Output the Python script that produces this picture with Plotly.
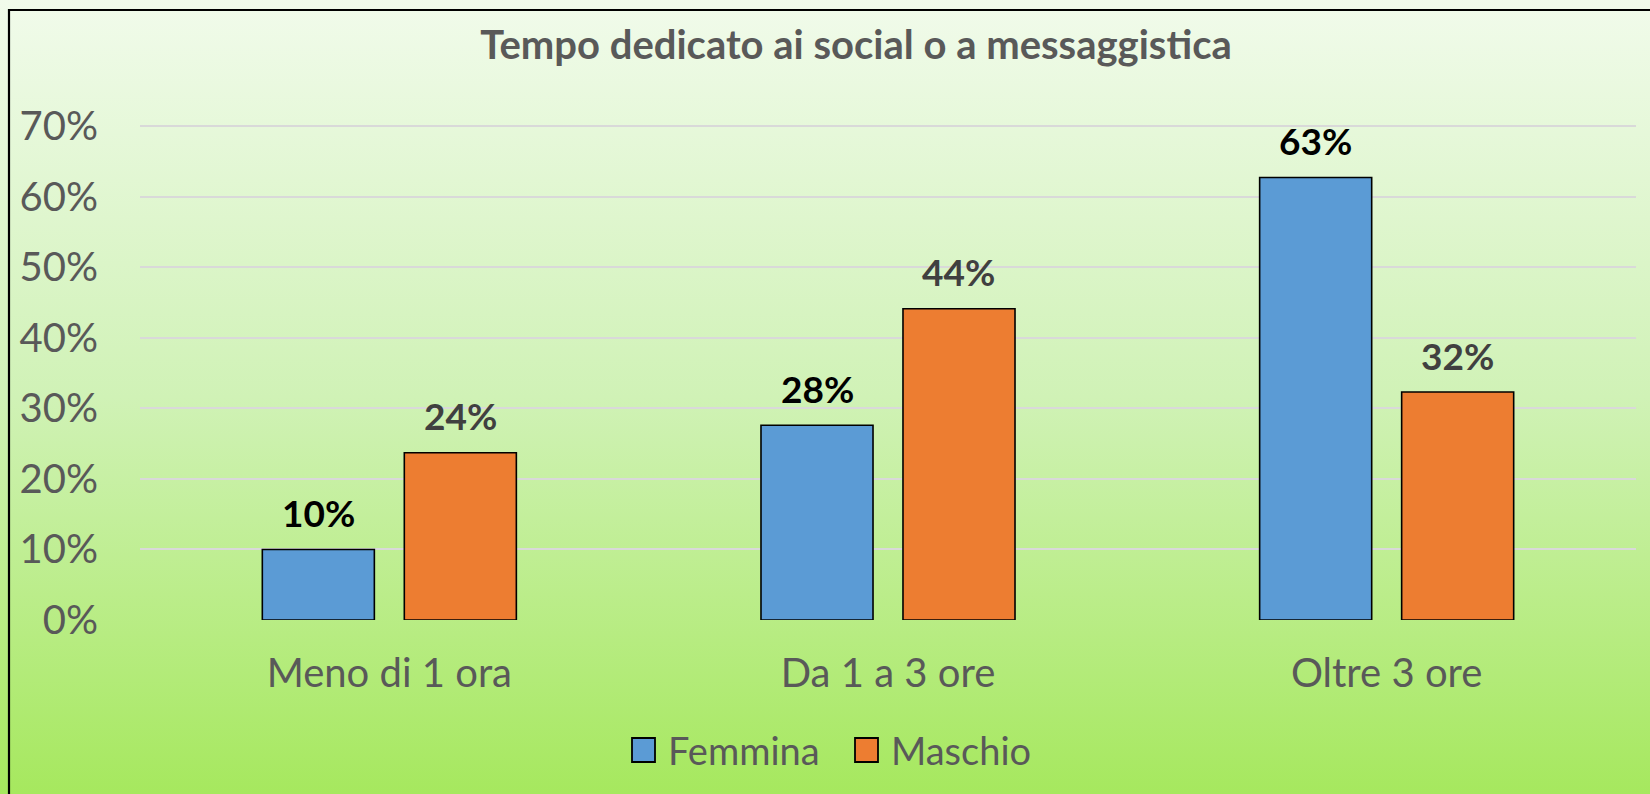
import base64
import plotly.graph_objects as go

# ---- data ----
categories = ["Meno di 1 ora", "Da 1 a 3 ore", "Oltre 3 ore"]
femmina = [0.100, 0.276, 0.627]
maschio = [0.237, 0.441, 0.323]
series_names = ["Femmina", "Maschio"]
y_ticks = [0, 0.1, 0.2, 0.3, 0.4, 0.5, 0.6, 0.7]
y_tick_labels = ["0%", "10%", "20%", "30%", "40%", "50%", "60%", "70%"]
title_text = "Tempo dedicato ai social o a messaggistica"

# ---- layout geometry ----
W, H = 1650, 794
L, R, T, B = 140, 14, 116, 174
PW, PH = W - L - R, H - T - B
Y_TOP = 0.7 * PH / (620 - 126)   # keeps 0%..70% at 620..126 px
FONT = "Lato"
GRAY = "#595959"
BLUE = "#5b9bd5"
ORANGE = "#ed7d31"
BARGAP, GROUPGAP = 0.4305, 0.211
# pixel offset of each bar centre from its category centre
HALF_SLOT_PX = (1 - BARGAP) / 4 * PW / len(categories)


def px(x):
    return (x - L) / PW


def py(y):
    return 1 - (y - T) / PH


fig = go.Figure()
series = [(series_names[0], femmina, BLUE, "#000000", -1),
          (series_names[1], maschio, ORANGE, "#404040", 1)]
for name, vals, col, lblcol, side in series:
    fig.add_trace(go.Bar(
        name=name, x=categories, y=vals,
        marker=dict(color=col, line=dict(color="#000000", width=1.6)),
        showlegend=False,
    ))
    for c, v in zip(categories, vals):
        fig.add_annotation(
            xref="x", yref="y", x=c, y=v,
            text="<b>%d%%</b>" % int(v * 100 + 0.5),
            showarrow=False, xanchor="center", yanchor="middle",
            xshift=side * HALF_SLOT_PX, yshift=37,
            font=dict(family=FONT, size=37, color=lblcol),
        )

# gradient background
svg = (
    '<svg xmlns="http://www.w3.org/2000/svg" width="100" height="100" preserveAspectRatio="none">'
    '<defs><linearGradient id="g" x1="0" y1="0" x2="0" y2="1">'
    '<stop offset="0" stop-color="#f1fbeb"/>'
    '<stop offset="0.5" stop-color="#d0f2b6"/>'
    '<stop offset="1" stop-color="#a6e85e"/>'
    '</linearGradient></defs>'
    '<rect x="0" y="0" width="100" height="100" fill="url(#g)"/></svg>'
)
src = "data:image/svg+xml;base64," + base64.b64encode(svg.encode()).decode()
fig.add_layout_image(dict(
    source=src, xref="paper", yref="paper",
    x=px(0), y=py(0), sizex=W / PW, sizey=H / PH,
    xanchor="left", yanchor="top", sizing="stretch", layer="below",
))

# chart frame
fig.add_shape(type="rect", xref="paper", yref="paper",
              x0=px(9), x1=px(1720), y0=py(10), y1=py(840),
              line=dict(color="#000000", width=2.2), fillcolor="rgba(0,0,0,0)")

# legend (manual, to get Excel-size swatches)
legend_items = [(series_names[0], BLUE, 632), (series_names[1], ORANGE, 855)]
for name, col, x0 in legend_items:
    fig.add_shape(type="rect", xref="paper", yref="paper",
                  x0=px(x0), x1=px(x0 + 23), y0=py(738), y1=py(762),
                  line=dict(color="#000000", width=1.8), fillcolor=col)
    fig.add_annotation(xref="paper", yref="paper", x=px(x0 + 34), y=py(750),
                       text=name, showarrow=False, xanchor="left", yanchor="middle",
                       font=dict(family=FONT, size=38, color=GRAY))

fig.update_layout(
    width=W, height=H,
    margin=dict(l=L, r=R, t=T, b=B, pad=0),
    paper_bgcolor="#d0f2b6",
    plot_bgcolor="rgba(0,0,0,0)",
    barmode="group", bargap=BARGAP, bargroupgap=GROUPGAP,
    showlegend=False,
    title=dict(text="<b>" + title_text + "</b>", xref="container", yref="container",
               x=856 / W, y=1 - 45 / H, xanchor="center", yanchor="middle",
               font=dict(family=FONT, size=40, color=GRAY)),
    xaxis=dict(showgrid=False, showline=False, zeroline=False, ticks="",
               tickfont=dict(family=FONT, size=40, color=GRAY),
               ticklabelstandoff=26),
    yaxis=dict(range=[0, Y_TOP], tickvals=y_ticks, ticktext=y_tick_labels,
               showgrid=True, gridcolor="#d9d9d9", gridwidth=1.6,
               zeroline=False, showline=False, ticks="",
               tickfont=dict(family=FONT, size=40, color=GRAY),
               ticklabelstandoff=41),
)

fig.write_html("out.html", config={"displayModeBar": False},
               post_script="document.body.style.margin='0';")
